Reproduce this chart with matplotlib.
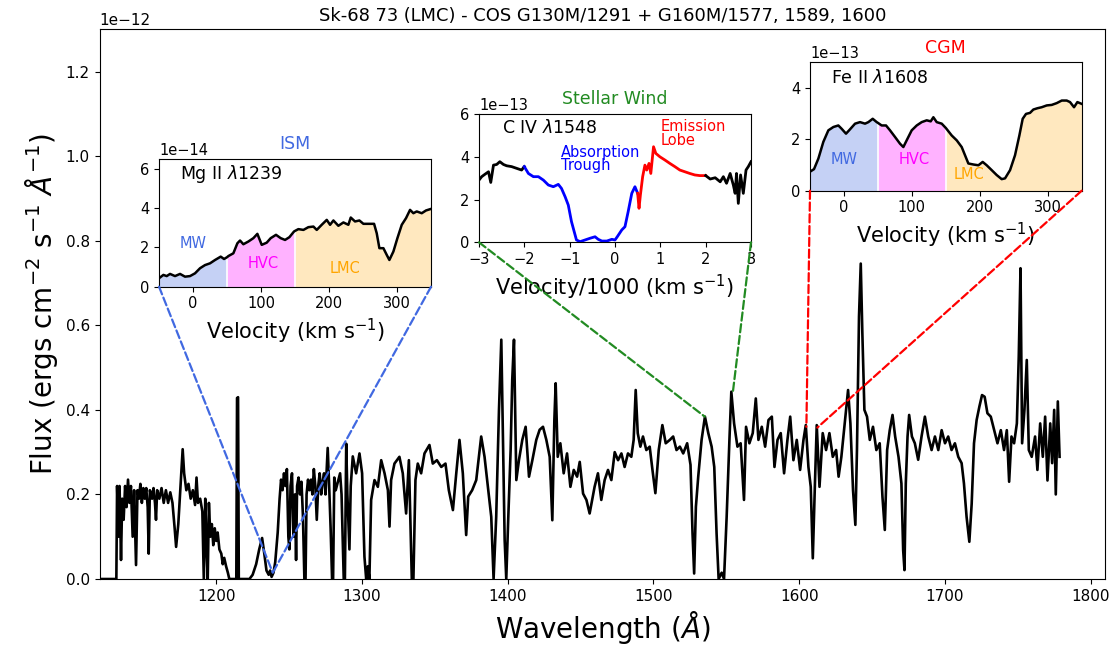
import numpy as np
import matplotlib
matplotlib.use('Agg')
import matplotlib.pyplot as plt
from matplotlib.patches import ConnectionPatch

# ---------------- main spectrum (flux in 1e-12 erg/cm2/s/A) ----------------
wave = [1120, 1131.5, 1132, 1133, 1133.7, 1134.7, 1135.5, 1136.5, 1137.5, 1138.5, 1139.5, 1140.5,
        1141.5, 1142.7, 1143.7, 1145, 1146, 1147, 1148, 1149, 1150, 1151, 1152, 1153, 1153.7,
        1154.5, 1156, 1157, 1158, 1158.7, 1159.5, 1161, 1162.5, 1164, 1165.5, 1167, 1168.5, 1170,
        1171.5, 1172.5, 1174, 1175.5, 1177, 1178, 1179.5, 1181, 1182.5, 1184, 1185.5, 1186.5,
        1187.5, 1189, 1190.5, 1191.5, 1192.5, 1193.5, 1194.2, 1195, 1196, 1197, 1198, 1199, 1200,
        1201, 1202.2, 1203.5, 1204.5, 1205.5, 1206.8, 1208, 1209, 1213.8, 1214.3, 1215, 1215.5,
        1222.8, 1225, 1227.4, 1229.5, 1231.5, 1233, 1234.5, 1236, 1237, 1238, 1239.3, 1240.5,
        1242.2, 1243.5, 1244.5, 1245.5, 1246.5, 1247.5, 1248.5, 1249.5, 1250.2, 1251, 1252, 1253,
        1254, 1254.8, 1255.5, 1256.5, 1257.5, 1258.5, 1259.5, 1260.5, 1261.3, 1262, 1263, 1264,
        1265.1, 1266, 1267, 1268, 1269, 1270, 1271, 1272, 1273, 1274, 1275, 1276.5, 1277.5, 1278.5,
        1279.5, 1280.2, 1281, 1282, 1283.5, 1285, 1286, 1287.5, 1288.3, 1289.2, 1290, 1291.4,
        1292.3, 1293.7, 1296, 1298.3, 1300.1, 1301.7, 1302.9, 1304, 1305.1, 1306.3, 1308.6, 1310.9,
        1313.2, 1315.5, 1317.8, 1318.9, 1320, 1322.3, 1325.7, 1328, 1330.3, 1332.2, 1334.2, 1335.3,
        1336.7, 1338.3, 1340.6, 1342.9, 1346.3, 1348.6, 1351.4, 1354.4, 1357.3, 1359.6, 1362.4,
        1364.7, 1366.9, 1369.2, 1371.5, 1372.9, 1375.6, 1378.4, 1381.8, 1384.1, 1386.4, 1388.7,
        1390.3, 1392.1, 1394, 1395.6, 1396.7, 1397.9, 1399, 1400.4, 1402, 1403.1, 1404.3, 1405.9,
        1407.7, 1410, 1412.3, 1414.6, 1416.9, 1419.6, 1421.9, 1424.2, 1426.5, 1428.8, 1430.6, 1432,
        1432.9, 1434.3, 1436.1, 1438.4, 1440.7, 1443, 1445.3, 1447.6, 1449.4, 1451.7, 1454, 1456.2,
        1459.6, 1461.9, 1464.2, 1466.5, 1468.8, 1471.1, 1473.4, 1475.7, 1478, 1480.2, 1482.5,
        1484.8, 1486.4, 1487.8, 1489.2, 1491, 1492.8, 1495.1, 1497.4, 1499.3, 1501.3, 1503.6,
        1506.1, 1508.4, 1511.2, 1513.5, 1515.8, 1518.1, 1520.4, 1523.1, 1525.4, 1526.8, 1527.9,
        1529.1, 1530.7, 1533, 1535.3, 1537.6, 1539.9, 1541.7, 1543.3, 1544.7, 1546.8, 1548.4,
        1550.2, 1552.1, 1553.4, 1555.3, 1557.6, 1559.8, 1562.1, 1563.5, 1565.8, 1568.1, 1570.2,
        1572, 1574.3, 1576.6, 1578.9, 1581.2, 1583, 1585.1, 1587.3, 1589.6, 1591.9, 1593.8, 1596,
        1598.3, 1600.6, 1602.9, 1604.5, 1606.3, 1607.9, 1609.3, 1610.7, 1612, 1613.9, 1616.1,
        1618.4, 1620.7, 1623, 1625.3, 1627.0, 1628.9, 1631.2, 1633.5, 1635.1, 1636.9, 1638.5,
        1639.6, 1641, 1642.2, 1643.3, 1644.7, 1646.5, 1648.4, 1650.6, 1652.9, 1655.2, 1657.1,
        1658.7, 1660.3, 1662.1, 1664, 1665.8, 1668.1, 1670.1, 1671.3, 1672.2, 1673.1, 1674.3,
        1675.4, 1677.3, 1679.3, 1681.6, 1683.9, 1686.2, 1688.5, 1690.8, 1693.1, 1695.4, 1697.7,
        1700, 1702.2, 1704.5, 1706.8, 1709.1, 1711.4, 1713, 1714.8, 1716.7, 1718.3, 1719.9, 1721.7,
        1723.6, 1725.4, 1727.2, 1729.1, 1731.4, 1733.7, 1736, 1738.3, 1740.5, 1742.4, 1744, 1745.6,
        1747.4, 1749.3, 1750.6, 1751.8, 1752.9, 1754.5, 1756.1, 1757.5, 1759.5, 1761.8, 1763.4,
        1765.3, 1767.1, 1768.7, 1770.3, 1772.2, 1773.5, 1774.9, 1776, 1777.4, 1778.6]
flux = [0.0, 0.0, 0.22, 0.10, 0.22, 0.045, 0.19, 0.14, 0.22, 0.17, 0.235, 0.18,
        0.22, 0.10, 0.21, 0.033, 0.21, 0.19, 0.225, 0.18, 0.215, 0.19, 0.215, 0.17, 0.06,
        0.21, 0.19, 0.215, 0.18, 0.14, 0.21, 0.19, 0.215, 0.18, 0.21, 0.18, 0.205, 0.18,
        0.12, 0.076, 0.13, 0.22, 0.307, 0.25, 0.21, 0.225, 0.19, 0.21, 0.175, 0.24,
        0.18, 0.19, 0.16, 0.0, 0.19, 0.06, 0.0, 0.18, 0.10, 0.13, 0.08, 0.12, 0.09,
        0.11, 0.07, 0.06, 0.035, 0.05, 0.03, 0.015, 0.0, 0.0, 0.428, 0.43, 0.0,
        0.0, 0.01, 0.035, 0.07, 0.097, 0.06, 0.02, 0.01, 0.02, 0.005, 0.015, 0.04,
        0.11, 0.19, 0.235, 0.21, 0.25, 0.22, 0.26, 0.10, 0.07, 0.22, 0.25, 0.10,
        0.20, 0.045, 0.22, 0.24, 0.20, 0.23, 0.15, 0.0, 0.0, 0.20, 0.235, 0.21,
        0.235, 0.20, 0.26, 0.22, 0.14, 0.22, 0.25, 0.20, 0.23, 0.25, 0.20, 0.31, 0.22, 0.12,
        0.0, 0.0, 0.24, 0.21, 0.23, 0.25, 0.20, 0.0, 0.0, 0.32, 0.20, 0.07,
        0.22, 0.29, 0.25, 0.297, 0.25, 0.053, 0.0, 0.03, 0.0, 0.187, 0.234, 0.218,
        0.281, 0.25, 0.21, 0.124, 0.234, 0.273, 0.289, 0.25, 0.155, 0.281, 0.0, 0.0,
        0.234, 0.273, 0.25, 0.297, 0.317, 0.273, 0.281, 0.265, 0.273, 0.21, 0.163,
        0.25, 0.329, 0.25, 0.104, 0.195, 0.21, 0.234, 0.337, 0.289, 0.218, 0.147,
        0.0, 0.147, 0.40, 0.566, 0.345, 0.092, 0.0, 0.147, 0.305, 0.471, 0.566, 0.234,
        0.281, 0.329, 0.36, 0.242, 0.281, 0.329, 0.353, 0.36, 0.329, 0.289, 0.139, 0.376,
        0.463, 0.289, 0.321, 0.25, 0.297, 0.218, 0.258, 0.242, 0.277, 0.202, 0.187, 0.155,
        0.218, 0.25, 0.187, 0.234, 0.258, 0.234, 0.30, 0.281, 0.297, 0.265, 0.297,
        0.289, 0.329, 0.447, 0.345, 0.313, 0.337, 0.305, 0.313, 0.258, 0.203, 0.305,
        0.364, 0.321, 0.329, 0.337, 0.305, 0.313, 0.297, 0.321, 0.27, 0.107, 0.013,
        0.171, 0.242, 0.329, 0.384, 0.345, 0.313, 0.265, 0.107, 0.0, 0.015, 0.0,
        0.147, 0.329, 0.443, 0.368, 0.313, 0.321, 0.187, 0.36, 0.321, 0.345, 0.427,
        0.329, 0.36, 0.313, 0.376, 0.384, 0.265, 0.329, 0.345, 0.25, 0.329, 0.384, 0.281,
        0.329, 0.258, 0.329, 0.364, 0.265, 0.218, 0.049, 0.218, 0.364, 0.218, 0.345,
        0.305, 0.345, 0.289, 0.305, 0.242, 0.289, 0.368, 0.447, 0.368, 0.21, 0.128,
        0.305, 0.621, 0.746, 0.581, 0.40, 0.384, 0.329, 0.36, 0.305, 0.321, 0.194,
        0.116, 0.305, 0.352, 0.388, 0.337, 0.289, 0.226, 0.068, 0.021, 0.226, 0.337,
        0.388, 0.337, 0.321, 0.282, 0.337, 0.384, 0.337, 0.305, 0.337, 0.305, 0.352,
        0.321, 0.337, 0.305, 0.321, 0.289, 0.274, 0.226, 0.147, 0.088, 0.178, 0.321, 0.376,
        0.408, 0.435, 0.431, 0.392, 0.384, 0.352, 0.321, 0.352, 0.305, 0.352, 0.23, 0.337,
        0.321, 0.368, 0.526, 0.735, 0.321, 0.40, 0.518, 0.305, 0.289, 0.337, 0.258,
        0.368, 0.289, 0.384, 0.233, 0.368, 0.274, 0.40, 0.20, 0.42, 0.289]

# ---------------- Mg II 1239 inset (flux in 1e-14) ----------------
mg_vel = [-50, -43.6, -38.7, -33.8, -26.5, -19.1, -11.8, -4.4, 2.9, 10.3, 17.6, 25, 32.4, 40.7,
          45.6, 50, 52, 59.3, 65.2, 69.1, 74, 81.4, 88.7, 94.6, 101, 108.3, 114.2, 122, 128.9,
          135.3, 141.7, 148.5, 150, 154.9, 162.3, 169.6, 177, 181.9, 189.2, 196.6, 201.5, 206.4,
          213.7, 221.1, 228.4, 231.9, 238.2, 244.6, 250.5, 260.3, 266.2, 270.1, 274, 279.9,
          284.8, 288.7, 294.6, 300.5, 306.9, 313.2, 319.1, 324, 328.9, 336.3, 342.6, 350]
mg_flux = [0.43, 0.60, 0.54, 0.65, 0.54, 0.65, 0.51, 0.54, 0.68, 0.94, 1.10, 1.19, 1.36, 1.53,
           1.41, 1.50, 1.56, 1.70, 2.21, 2.35, 2.16, 2.30, 2.47, 2.69, 2.13, 2.24, 2.47, 2.64, 2.47,
           2.38, 2.52, 2.81, 2.84, 2.93, 2.89, 3.03, 3.06, 2.89, 3.15, 3.40, 3.15, 3.37,
           3.10, 3.27, 3.15, 3.52, 3.32, 3.37, 3.20, 3.20, 3.20, 2.72, 1.96, 1.96,
           1.62, 1.36, 1.79, 2.47, 3.15, 3.49, 3.91, 3.74, 3.83, 3.74, 3.88, 3.96]

# ---------------- C IV 1548 inset (velocity/1000, flux in 1e-13) ----------------
civ_vel = [-3.0, -2.94, -2.87, -2.79, -2.74, -2.68, -2.61, -2.54, -2.46, -2.39, -2.28, -2.17,
           -2.06, -2.0, -1.91, -1.8, -1.69, -1.58, -1.47, -1.36, -1.25, -1.18, -1.1, -1.03,
           -0.96, -0.9, -0.85, -0.77, -0.66, -0.55, -0.44, -0.37, -0.29, -0.18, -0.07, 0.0,
           0.05, 0.15, 0.22, 0.29, 0.37, 0.44, 0.5, 0.53, 0.56, 0.61, 0.66, 0.7, 0.75, 0.79,
           0.85, 0.9, 0.99, 1.1, 1.21, 1.32, 1.43, 1.54, 1.65, 1.76, 1.87, 2.0, 2.1, 2.21, 2.32,
           2.39, 2.46, 2.54, 2.61, 2.65, 2.68, 2.72, 2.77, 2.83, 2.89, 2.94, 3.0]
civ_flux = [2.91, 3.07, 3.18, 3.30, 2.80, 3.61, 3.64, 3.77, 3.64, 3.58, 3.54, 3.46,
            3.38, 3.54, 3.22, 3.07, 3.07, 2.91, 2.68, 2.60, 2.71, 2.52, 2.13, 1.74,
            0.97, 0.50, 0.11, 0.03, 0.11, 0.19, 0.26, 0.14, 0.06, 0.06, 0.14, 0.11,
            0.26, 0.58, 0.73, 1.43, 2.29, 2.60, 2.29, 1.59, 2.21, 3.07, 3.61, 3.38, 3.69, 3.22,
            4.47, 4.16, 4.00, 3.85, 3.69, 3.54, 3.38, 3.30, 3.22, 3.15, 3.12, 3.12, 2.96, 3.02, 2.83,
            3.07, 2.76, 3.22, 2.68, 2.29, 3.22, 1.82, 3.15, 2.29, 3.38, 3.54, 3.77]
civ_edges = [-3.0, -2.0, 0.5, 2.0, 3.0]
civ_colors = ['black', 'blue', 'red', 'black']

# ---------------- Fe II 1608 inset (flux in 1e-13) ----------------
fe_vel = [-50, -44.1, -37.7, -30.4, -23, -15.6, -8.3, -3.4, 3, 8.9, 16.3, 23.6, 31, 35.9, 42.3,
          48.2, 50, 55.5, 61.9, 67.8, 75.2, 82.5, 87.4, 92.3, 99.7, 107.1, 114.4, 121.8, 127.7,
          131.6, 136.5, 143.9, 150, 158.6, 166, 173.3, 178.2, 183.1, 190.5, 197.9, 204.2, 210.1,
          217.5, 224.8, 232.2, 237.1, 244.5, 251.8, 258.2, 263.1, 268, 273.9, 278.8, 284.7,
          291.1, 298.5, 305.8, 313.2, 320.6, 327.9, 332.8, 338.7, 343.6, 350]
fe_flux = [0.74, 0.84, 1.25, 1.90, 2.35, 2.48, 2.54, 2.41, 2.22, 2.39, 2.61, 2.67, 2.61, 2.67, 2.80,
           2.67, 2.64, 2.54, 2.54, 2.35, 2.09, 1.83, 1.70, 1.96, 2.35, 2.54, 2.67, 2.74, 2.70,
           2.86, 2.67, 2.61, 2.44, 2.15, 1.96, 1.70, 1.38, 1.06, 1.02, 0.99, 1.12, 0.99,
           0.80, 0.61, 0.45, 0.48, 0.80, 1.38, 2.15, 2.80, 2.99, 3.03, 3.16, 3.21,
           3.25, 3.32, 3.34, 3.41, 3.51, 3.51, 3.45, 3.25, 3.45, 3.38]

regions = ['MW', 'HVC', 'LMC']
region_edges = [-50, 50, 150, 350]
region_fill = ['royalblue', 'magenta', 'orange']
region_alpha = [0.3, 0.3, 0.25]
region_text = ['royalblue', 'magenta', 'orange']
mg_label_pos = [(0, 2.2), (103, 1.2), (224, 0.95)]
fe_label_pos = [(0, 1.2), (104, 1.2), (184, 0.62)]

# ---------------- figure ----------------
fig = plt.figure(figsize=(11.09, 6.46), dpi=100)
ax = fig.add_axes([0.0898, 0.1037, 0.9069, 0.8509])
ax.plot(wave, np.array(flux) * 1e-12, color='black', lw=1.9)
ax.set_xlim(1120, 1810)
ax.set_ylim(0, 1.3e-12)
ax.set_xticks([1200, 1300, 1400, 1500, 1600, 1700, 1800])
ax.set_yticks(np.arange(0, 1.21, 0.2) * 1e-12)
ax.tick_params(labelsize=11)
ax.yaxis.get_offset_text().set_fontsize(11)
ax.set_xlabel(r'Wavelength ($\AA$)', fontsize=20)
ax.set_ylabel(r'Flux (ergs cm$^{-2}$ s$^{-1}$ $\AA^{-1}$)', fontsize=20)
ax.set_title('Sk-68 73 (LMC) - COS G130M/1291 + G160M/1577, 1589, 1600', fontsize=12.9, pad=6)


def region_inset(rect, vel, fl, scale, ylim, yticks, name, title, tcolor, labpos):
    a = fig.add_axes(rect)
    vel = np.array(vel)
    fl = np.array(fl) * scale
    for i in range(3):
        m = (vel >= region_edges[i]) & (vel <= region_edges[i + 1])
        a.fill_between(vel[m], 0, fl[m], color=region_fill[i], alpha=region_alpha[i], lw=0)
    for e in region_edges[1:3]:
        idx = np.where(vel == e)[0][0]
        a.plot([e, e], [0, fl[idx]], color='white', lw=1.2)
    a.plot(vel, fl, color='black', lw=1.8)
    for i in range(3):
        a.text(labpos[i][0], labpos[i][1] * scale, regions[i], color=region_text[i],
               ha='center', va='center', fontsize=10.5)
    a.set_xlim(-50, 350)
    a.set_ylim(*ylim)
    a.set_xticks([0, 100, 200, 300])
    a.set_yticks(yticks)
    a.tick_params(labelsize=10.5)
    a.yaxis.get_offset_text().set_fontsize(10.5)
    a.set_xlabel(r'Velocity (km s$^{-1}$)', fontsize=15)
    a.text(0.077, 0.88, name, transform=a.transAxes, fontsize=12.5, ha='left', va='center')
    a.set_title(title, color=tcolor, fontsize=12.5, y=1.0, pad=7)
    return a


ax_mg = region_inset([0.1434, 0.5562, 0.2453, 0.1977], mg_vel, mg_flux, 1e-14,
                     (0, 6.5e-14), [0, 2e-14, 4e-14, 6e-14], r'Mg II $\lambda$1239',
                     'ISM', 'royalblue', mg_label_pos)
ax_fe = region_inset([0.7304, 0.7048, 0.2450, 0.1988], fe_vel, fe_flux, 1e-13,
                     (0, 5e-13), [0, 2e-13, 4e-13], r'Fe II $\lambda$1608',
                     'CGM', 'red', fe_label_pos)

ax_c = fig.add_axes([0.4319, 0.6249, 0.2453, 0.1986])
cv = np.array(civ_vel)
cf = np.array(civ_flux) * 1e-13
for i in range(4):
    m = (cv >= civ_edges[i]) & (cv <= civ_edges[i + 1])
    ax_c.plot(cv[m], cf[m], color=civ_colors[i], lw=2.0)
ax_c.set_xlim(-3, 3)
ax_c.set_ylim(0, 6e-13)
ax_c.set_xticks([-3, -2, -1, 0, 1, 2, 3])
ax_c.set_yticks([0, 2e-13, 4e-13, 6e-13])
ax_c.tick_params(labelsize=10.5)
ax_c.yaxis.get_offset_text().set_fontsize(10.5)
ax_c.set_xlabel(r'Velocity/1000 (km s$^{-1}$)', fontsize=15)
ax_c.text(0.083, 0.89, r'C IV $\lambda$1548', transform=ax_c.transAxes, fontsize=12.5,
          ha='left', va='center')
ax_c.text(-1.19, 3.9e-13, 'Absorption\nTrough', color='blue', fontsize=10.5, ha='left',
          va='center', linespacing=0.9)
ax_c.text(1.0, 5.1e-13, 'Emission\nLobe', color='red', fontsize=10.5, ha='left',
          va='center', linespacing=0.9)
ax_c.set_title('Stellar Wind', color='forestgreen', fontsize=12.5, y=1.0, pad=7)

# ---------------- connectors ----------------
def connect(a, corner, pt, color):
    con = ConnectionPatch(xyA=corner, coordsA=a.transAxes, xyB=pt, coordsB=ax.transData,
                          color=color, ls='--', lw=1.6)
    fig.add_artist(con)

connect(ax_mg, (0, 0), (1238.8, 0.015e-12), 'royalblue')
connect(ax_mg, (1, 0), (1238.8, 0.015e-12), 'royalblue')
connect(ax_c, (0, 0), (1535.2, 0.384e-12), 'forestgreen')
connect(ax_c, (1, 0), (1554.5, 0.443e-12), 'forestgreen')
connect(ax_fe, (0, 0), (1604.9, 0.36e-12), 'red')
connect(ax_fe, (1, 0), (1612.4, 0.358e-12), 'red')

fig.savefig('out.png', dpi=100)
